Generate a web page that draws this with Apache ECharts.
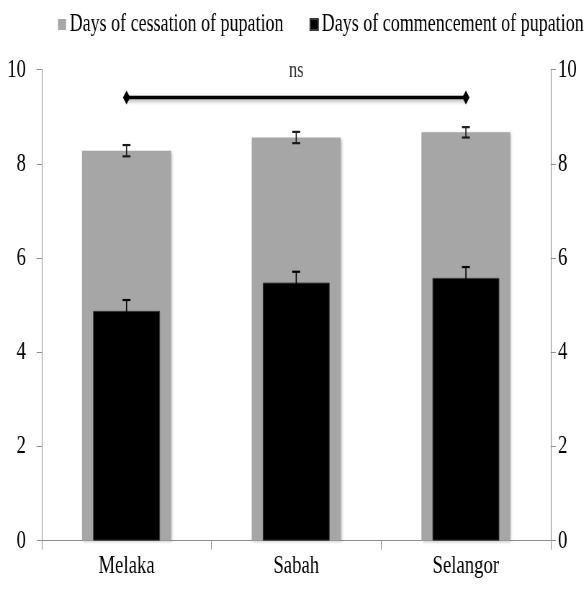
<!DOCTYPE html>
<html>
<head>
<meta charset="utf-8">
<script src="https://cdn.jsdelivr.net/npm/echarts@6/dist/echarts.min.js"></script>
<style>
  html, body { margin: 0; padding: 0; background: #fff; overflow: hidden; }
  /* the figure uses a narrow, tall serif face: draw wide and condense horizontally */
  #chart { width: 814px; height: 589px; transform: scaleX(0.72); transform-origin: 0 0; }
</style>
</head>
<body>
<div id="chart"></div>
<script>
// Pupation timing by locality (days, mean ± SE)
const categories = ['Melaka', 'Sabah', 'Selangor'];
const cessation = [8.28, 8.56, 8.67];
const cessationErr = [0.12, 0.12, 0.11];
const commencement = [4.88, 5.48, 5.58];
const commencementErr = [0.23, 0.23, 0.23];
const yTicks = [0, 2, 4, 6, 8, 10];
const nsLevel = 9.41;
const nsText = 'ns';

const FONT = 'Liberation Serif';
const chart = echarts.init(document.getElementById('chart'));

function errorBars(means, errs) {
  return means.map((m, i) => [i, m, errs[i]]);
}

function makeErrorRenderer(color) {
  return function (params, api) {
    const x = api.value(0);
    const m = api.value(1);
    const e = api.value(2);
    const hi = api.coord([x, m + e]);
    const lo = api.coord([x, m - e]);
    const half = 5.5;
    return {
      type: 'group',
      children: [
        { type: 'line', shape: { x1: hi[0], y1: hi[1], x2: lo[0], y2: lo[1] }, style: { stroke: color, lineWidth: 1.6 } },
        { type: 'line', shape: { x1: hi[0] - half, y1: hi[1], x2: hi[0] + half, y2: hi[1] }, style: { stroke: color, lineWidth: 2.2 } },
        { type: 'line', shape: { x1: lo[0] - half, y1: lo[1], x2: lo[0] + half, y2: lo[1] }, style: { stroke: color, lineWidth: 2.2 } }
      ]
    };
  };
}

const axisLineStyle = { color: '#8c8c8c', width: 1 };
const yLabelText = { color: '#000', fontFamily: FONT, fontSize: 26 };

chart.setOption({
  animation: false,
  backgroundColor: '#fff',
  legend: {
    left: 75.7,
    top: 7,
    width: 740,
    itemWidth: 11,
    itemHeight: 11,
    itemGap: 36,
    icon: 'rect',
    textStyle: { color: '#000', fontFamily: FONT, fontSize: 25 },
    data: ['Days of cessation of pupation', 'Days of commencement of pupation']
  },
  grid: { left: 57.9, right: 49.1, top: 69.7, bottom: 48.3 },
  xAxis: [
    {
      type: 'category',
      data: categories,
      boundaryGap: true,
      axisLine: { lineStyle: axisLineStyle },
      axisTick: { show: true, length: 9, lineStyle: axisLineStyle },
      axisLabel: { margin: 12, color: '#000', fontFamily: FONT, fontSize: 26 },
      splitLine: { show: false }
    },
    {
      type: 'category',
      data: categories,
      show: false
    }
  ],
  yAxis: [
    {
      type: 'value', min: yTicks[0], max: yTicks[yTicks.length - 1], interval: 2,
      position: 'left',
      axisLine: { show: true, lineStyle: axisLineStyle },
      axisTick: { show: true, length: 7, lineStyle: axisLineStyle },
      axisLabel: Object.assign({ margin: 22 }, yLabelText),
      splitLine: { show: false }
    },
    {
      type: 'value', min: yTicks[0], max: yTicks[yTicks.length - 1], interval: 2,
      position: 'right',
      axisLine: { show: true, lineStyle: axisLineStyle },
      axisTick: { show: true, length: 7, lineStyle: axisLineStyle },
      axisLabel: Object.assign({ margin: 10 }, yLabelText),
      splitLine: { show: false }
    }
  ],
  series: [
    {
      name: 'Days of cessation of pupation',
      type: 'bar',
      xAxisIndex: 0,
      yAxisIndex: 0,
      barWidth: '52.4%',
      data: cessation,
      itemStyle: { color: '#a6a6a6', shadowColor: 'rgba(0,0,0,0.25)', shadowBlur: 3, shadowOffsetX: 1.5, shadowOffsetY: 1 },
      z: 2
    },
    {
      name: 'Days of commencement of pupation',
      type: 'bar',
      xAxisIndex: 1,
      yAxisIndex: 0,
      barWidth: '39.4%',
      data: commencement,
      itemStyle: { color: '#000', borderColor: '#3a3a3a', borderWidth: 1 },
      z: 3
    },
    {
      type: 'custom',
      xAxisIndex: 0,
      yAxisIndex: 0,
      renderItem: makeErrorRenderer('#1a1a1a'),
      data: errorBars(cessation, cessationErr),
      z: 4,
      silent: true
    },
    {
      type: 'custom',
      xAxisIndex: 0,
      yAxisIndex: 0,
      renderItem: makeErrorRenderer('#000'),
      data: errorBars(commencement, commencementErr),
      z: 4,
      silent: true
    },
    {
      type: 'line',
      xAxisIndex: 0,
      yAxisIndex: 0,
      symbol: 'diamond',
      symbolSize: [10, 14],
      lineStyle: { color: '#000', width: 3.5, shadowColor: 'rgba(0,0,0,0.35)', shadowBlur: 4, shadowOffsetY: 2 },
      itemStyle: { color: '#000' },
      data: [
        [0, nsLevel],
        [2, nsLevel]
      ],
      z: 5,
      silent: true
    },
    {
      type: 'scatter',
      xAxisIndex: 0,
      yAxisIndex: 0,
      symbolSize: 1,
      itemStyle: { color: 'rgba(0,0,0,0)' },
      label: { show: true, position: 'top', distance: 15, formatter: nsText, color: '#000', fontFamily: FONT, fontSize: 23 },
      data: [[1, nsLevel]],
      z: 5,
      silent: true
    }
  ]
});
</script>
</body>
</html>
